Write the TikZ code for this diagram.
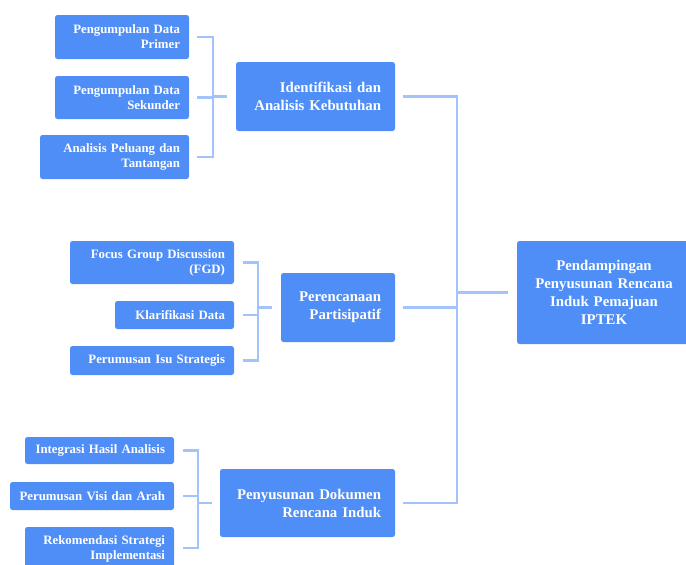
\documentclass[tikz,border=0pt]{standalone}
\usepackage{fontspec}
\setmainfont{Liberation Serif}
\usepackage{xcolor}
\usepackage{tikz}
\usetikzlibrary{positioning}
\definecolor{boxBlue}{HTML}{4F8EF7}
\definecolor{lineBlue}{HTML}{A3C4FA}
\tikzset{map-leaf/.style={fill=boxBlue, rounded corners=2.5pt, text=white, align=right, inner xsep=9pt, inner ysep=2pt, font=\fontsize{12.8}{15}\selectfont\bfseries}}
\tikzset{map-main/.style={fill=boxBlue, rounded corners=2.5pt, text=white, align=right, inner xsep=14pt, inner ysep=2pt, font=\fontsize{14.8}{18}\selectfont\bfseries}}
\tikzset{map-root/.style={map-main, align=center, inner xsep=12pt}}
\tikzset{map-link/.style={draw=lineBlue, line width=2.3pt}}

\begin{document}
\begin{tikzpicture}[x=1pt, y=-1pt]
            \useasboundingbox (0,0) rectangle (686,565);

            % root
            \node [map-root, text width=150pt, minimum height=103pt] (root) at (604, 292.5) {Pendampingan\\Penyusunan Rencana\\Induk Pemajuan\\IPTEK};

            % main branches
            \node [map-main, text width=131pt, minimum height=69pt] (ident) at (315.5, 96.5) {Identifikasi dan\\Analisis Kebutuhan};
            \node [map-main, text width=86pt, minimum height=69pt] (renc) at (338, 307.5) {Perencanaan\\Partisipatif};
            \node [map-main, text width=147pt, minimum height=68pt] (susun) at (307.5, 503) {Penyusunan Dokumen\\Rencana Induk};

            % leaves
            \node [map-leaf, text width=116pt, minimum height=44pt] (primer) at (122, 37) {Pengumpulan Data\\Primer};
            \node [map-leaf, text width=116pt, minimum height=43pt] (sekunder) at (122, 97.5) {Pengumpulan Data\\Sekunder};
            \node [map-leaf, text width=131pt, minimum height=44pt] (peluang) at (114.5, 157) {Analisis Peluang dan\\Tantangan};

            \node [map-leaf, text width=146pt, minimum height=43pt] (fgd) at (152, 262.5) {Focus Group Discussion\\(FGD)};
            \node [map-leaf, text width=101pt, minimum height=28pt] (klarif) at (174.5, 315) {Klarifikasi Data};
            \node [map-leaf, text width=146pt, minimum height=29pt] (isu) at (152, 360.5) {Perumusan Isu Strategis};

            \node [map-leaf, text width=131pt, minimum height=27pt] (integ) at (99.5, 450.5) {Integrasi Hasil Analisis};
            \node [map-leaf, text width=146pt, minimum height=28pt] (visi) at (92, 496) {Perumusan Visi dan Arah};
            \node [map-leaf, text width=131pt, minimum height=44pt] (rekom) at (99.5, 549) {Rekomendasi Strategi\\Implementasi};

            % forks
            \coordinate (ident-fork) at ([xshift=-23pt]ident.west);
            \coordinate (renc-fork) at ([xshift=-23pt]renc.west);
            \coordinate (susun-fork) at ([xshift=-22pt]susun.west);
            \coordinate (root-fork) at (457, 292.5);

            \draw [map-link] ([xshift=8pt]primer.east) -| (ident-fork) |- ([xshift=8pt]peluang.east);
            \draw [map-link] ([xshift=8pt]sekunder.east) -- (sekunder.east -| ident-fork);
            \draw [map-link] (ident-fork) -- ([xshift=-9pt]ident.west);

            \draw [map-link] ([xshift=9pt]fgd.east) -| (renc-fork) |- ([xshift=9pt]isu.east);
            \draw [map-link] ([xshift=9pt]klarif.east) -- (klarif.east -| renc-fork);
            \draw [map-link] (renc-fork) -- ([xshift=-9pt]renc.west);

            \draw [map-link] ([xshift=9pt]integ.east) -| (susun-fork) |- ([xshift=9pt]rekom.north east |- 0,548);
            \draw [map-link] ([xshift=9pt]visi.east) -- (visi.east -| susun-fork);
            \draw [map-link] (susun-fork) -- ([xshift=-8pt]susun.west);

            \draw [map-link] ([xshift=8pt]ident.east) -| (root-fork) |- ([xshift=8pt]susun.east);
            \draw [map-link] ([xshift=8pt]renc.east) -- (renc.east -| root-fork);
            \draw [map-link] (root-fork) -- ([xshift=-9pt]root.west);
        \end{tikzpicture}
\end{document}
